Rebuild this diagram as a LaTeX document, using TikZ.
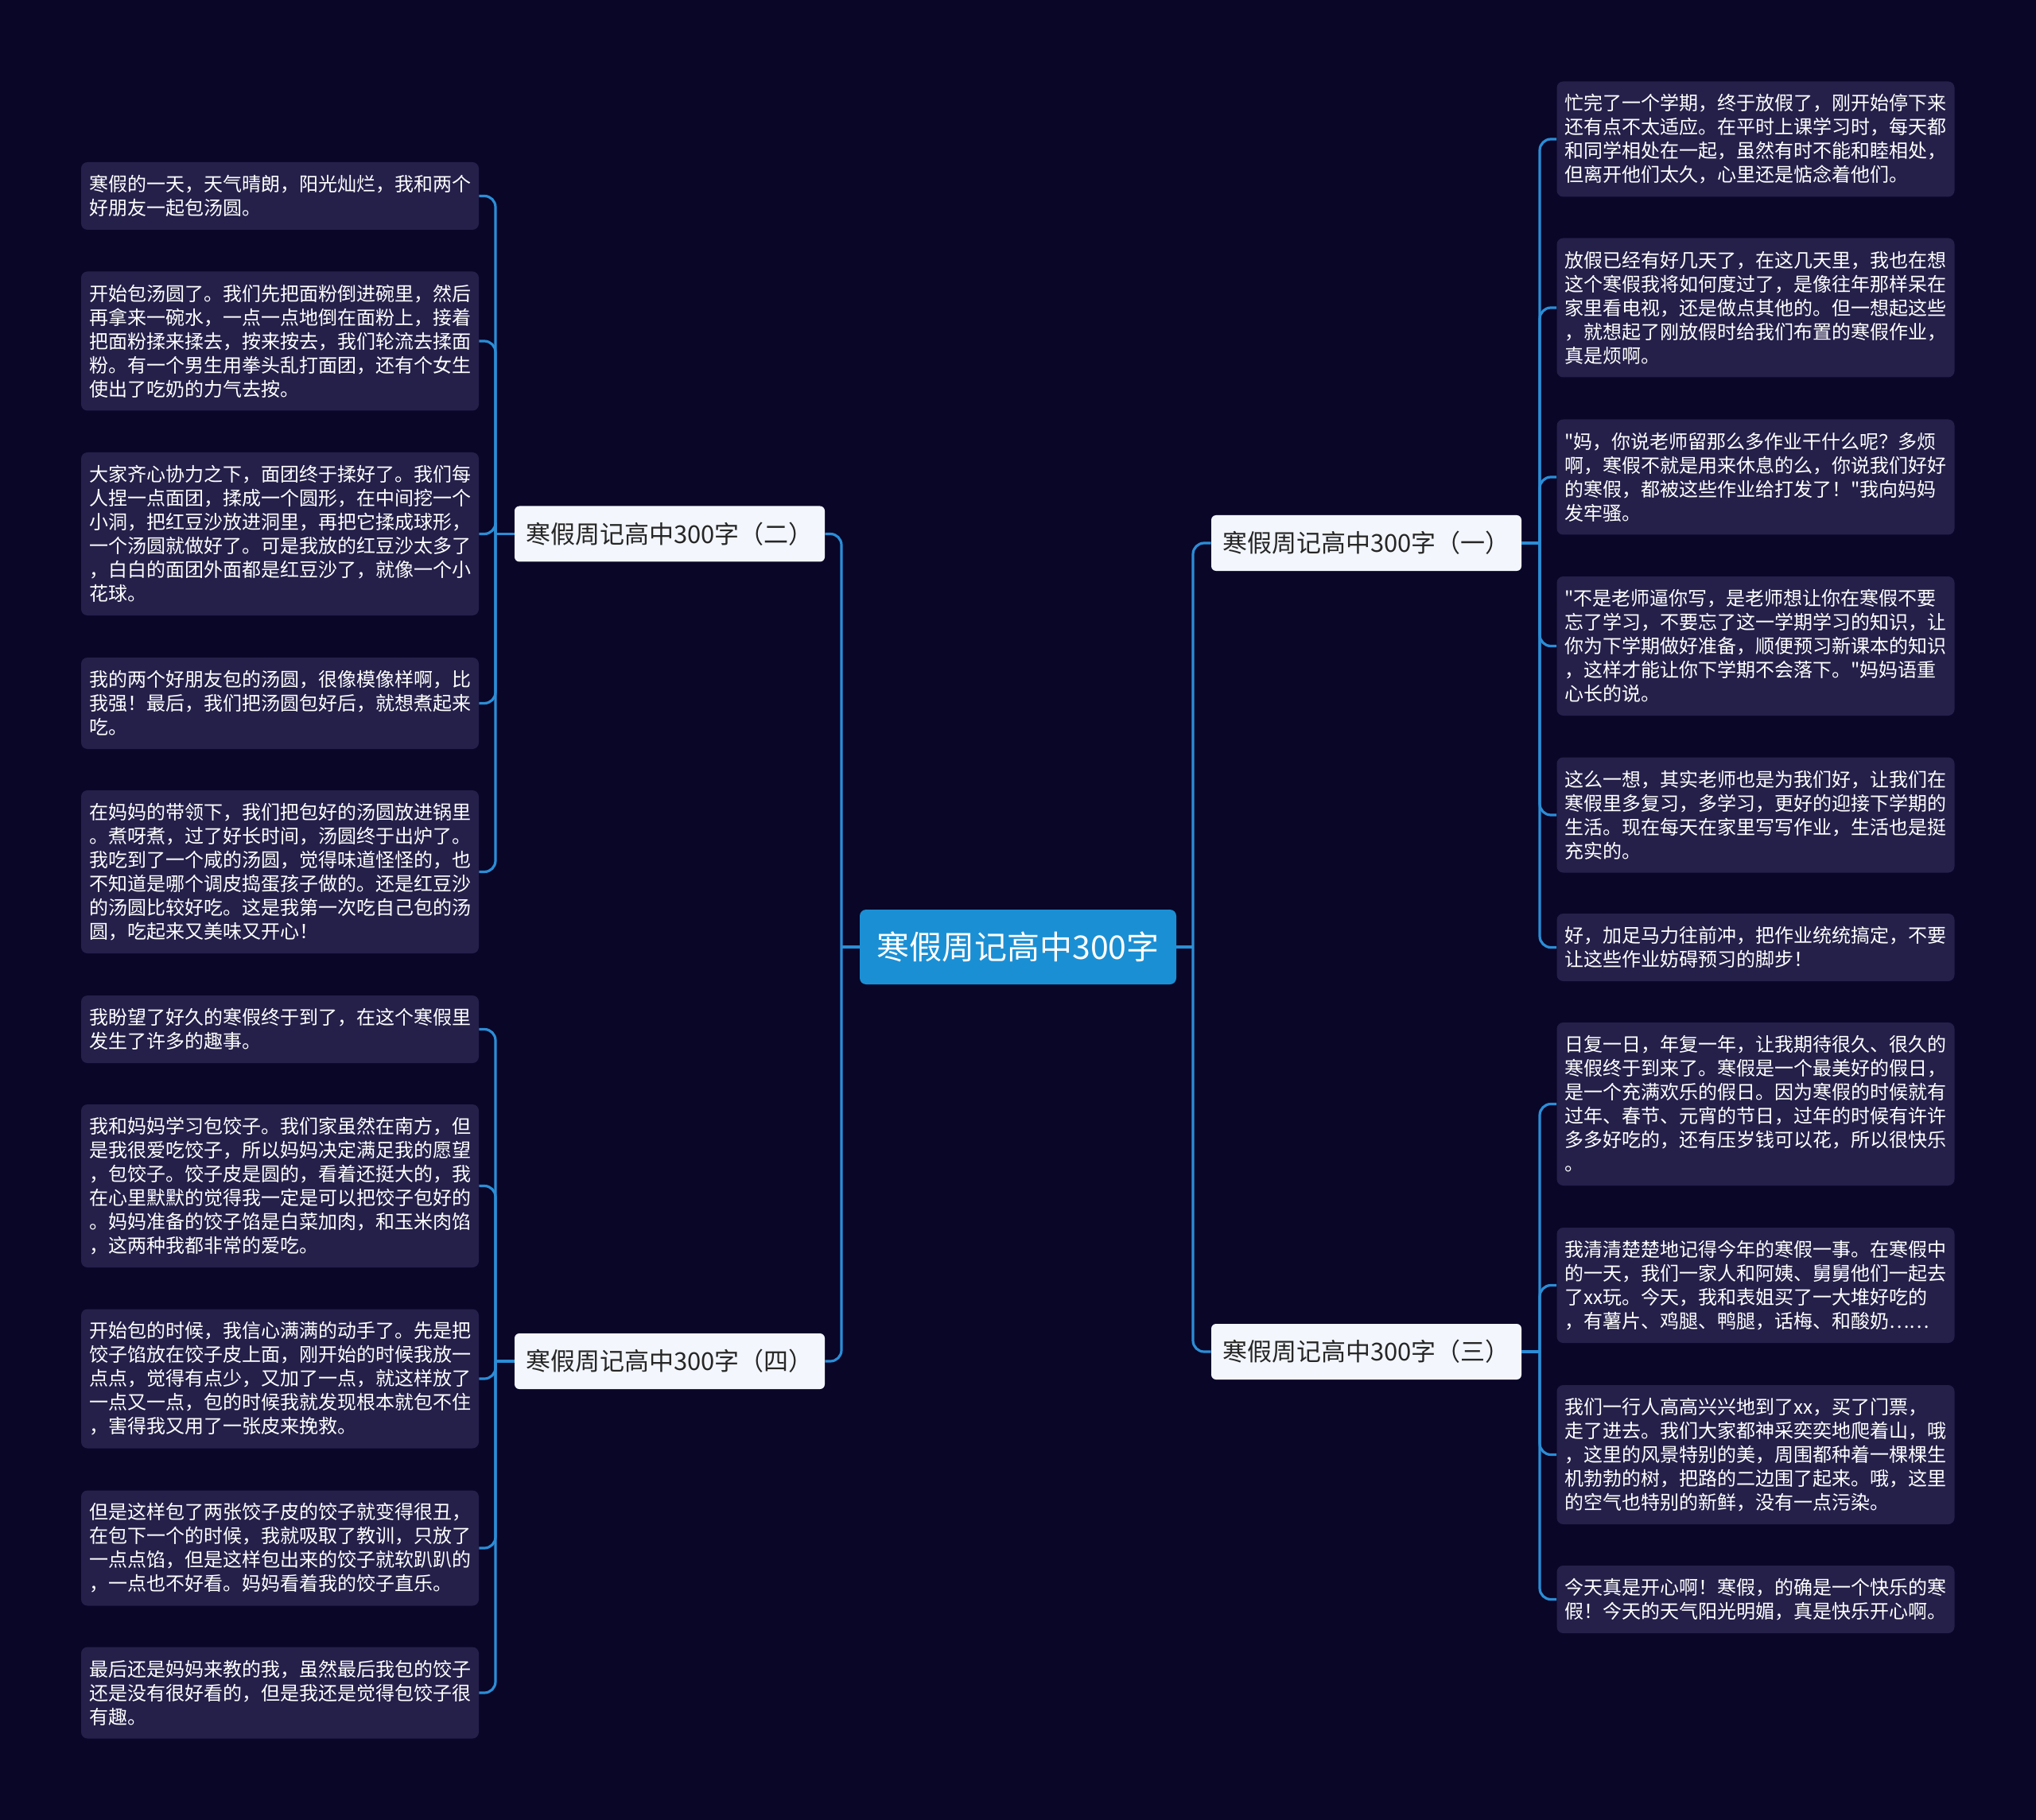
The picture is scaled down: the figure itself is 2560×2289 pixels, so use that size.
\documentclass[tikz,border=0pt]{standalone}
\usepackage{fontspec}
\setmainfont{Noto Sans CJK SC}[Ligatures=TeXOff]

\definecolor{csfondo}{HTML}{0A0628}
\definecolor{cfoglia}{HTML}{24204A}
\definecolor{clinea}{HTML}{2B8DD6}
\definecolor{ccentro}{HTML}{1B8FD4}
\definecolor{cchiaro}{HTML}{F3F6FC}
\definecolor{ctesto}{HTML}{262626}

\begin{document}
\begin{tikzpicture}[x=0.5pt,y=-0.5pt,
    ramo/.style={line width=1.6pt,draw=clinea,rounded corners=7pt},
    foglia/.style={fill=cfoglia,rounded corners=4pt,text=white,align=left,
        text width=240pt,inner xsep=5pt,inner ysep=0pt,
        minimum height={#1*15pt+12.5pt},font=\fontsize{12pt}{15pt}\selectfont},
    titolo/.style={fill=cchiaro,rounded corners=3pt,text=ctesto,inner sep=0pt,
        minimum width=195pt,minimum height=35pt,font=\fontsize{15.5pt}{18pt}\selectfont},
    radice/.style={fill=ccentro,rounded corners=4pt,text=white,inner sep=0pt,
        minimum width=199pt,minimum height=47pt,font=\fontsize{20.5pt}{24pt}\selectfont}]

    % sfondo
    \path[fill=csfondo,use as bounding box] (0,0) rectangle (2560,2289);

    % nodo centrale
    \node[radice] (root) at (1280,1191) {寒假周记高中300字};

    % rami
    \node[titolo] (b1) at (1718,683) {寒假周记高中300字（一）};
    \node[titolo] (b2) at (842,671.5) {寒假周记高中300字（二）};
    \node[titolo] (b3) at (1718,1700) {寒假周记高中300字（三）};
    \node[titolo] (b4) at (842,1712) {寒假周记高中300字（四）};

    % foglie a sinistra (二)
    \node[foglia=2] (l1) at (352,246.5) {寒假的一天，天气晴朗，阳光灿烂，我和两个\\好朋友一起包汤圆。};
    \node[foglia=5] (l2) at (352,429) {开始包汤圆了。我们先把面粉倒进碗里，然后\\再拿来一碗水，一点一点地倒在面粉上，接着\\把面粉揉来揉去，按来按去，我们轮流去揉面\\粉。有一个男生用拳头乱打面团，还有个女生\\使出了吃奶的力气去按。};
    \node[foglia=6] (l3) at (352,671.5) {大家齐心协力之下，面团终于揉好了。我们每\\人捏一点面团，揉成一个圆形，在中间挖一个\\小洞，把红豆沙放进洞里，再把它揉成球形，\\一个汤圆就做好了。可是我放的红豆沙太多了\\，白白的面团外面都是红豆沙了，就像一个小\\花球。};
    \node[foglia=3] (l4) at (352,884.5) {我的两个好朋友包的汤圆，很像模像样啊，比\\我强！最后，我们把汤圆包好后，就想煮起来\\吃。};
    \node[foglia=6] (l5) at (352,1096.5) {在妈妈的带领下，我们把包好的汤圆放进锅里\\。煮呀煮，过了好长时间，汤圆终于出炉了。\\我吃到了一个咸的汤圆，觉得味道怪怪的，也\\不知道是哪个调皮捣蛋孩子做的。还是红豆沙\\的汤圆比较好吃。这是我第一次吃自己包的汤\\圆，吃起来又美味又开心！};

    % foglie a sinistra (四)
    \node[foglia=2] (l6) at (352,1294.5) {我盼望了好久的寒假终于到了，在这个寒假里\\发生了许多的趣事。};
    \node[foglia=6] (l7) at (352,1491.5) {我和妈妈学习包饺子。我们家虽然在南方，但\\是我很爱吃饺子，所以妈妈决定满足我的愿望\\，包饺子。饺子皮是圆的，看着还挺大的，我\\在心里默默的觉得我一定是可以把饺子包好的\\。妈妈准备的饺子馅是白菜加肉，和玉米肉馅\\，这两种我都非常的爱吃。};
    \node[foglia=5] (l8) at (352,1734) {开始包的时候，我信心满满的动手了。先是把\\饺子馅放在饺子皮上面，刚开始的时候我放一\\点点，觉得有点少，又加了一点，就这样放了\\一点又一点，包的时候我就发现根本就包不住\\，害得我又用了一张皮来挽救。};
    \node[foglia=4] (l9) at (352,1947) {但是这样包了两张饺子皮的饺子就变得很丑，\\在包下一个的时候，我就吸取了教训，只放了\\一点点馅，但是这样包出来的饺子就软趴趴的\\，一点也不好看。妈妈看着我的饺子直乐。};
    \node[foglia=3] (l10) at (352,2129) {最后还是妈妈来教的我，虽然最后我包的饺子\\还是没有很好看的，但是我还是觉得包饺子很\\有趣。};

    % foglie a destra (一)
    \node[foglia=4] (r1) at (2207.5,175) {忙完了一个学期，终于放假了，刚开始停下来\\还有点不太适应。在平时上课学习时，每天都\\和同学相处在一起，虽然有时不能和睦相处，\\但离开他们太久，心里还是惦念着他们。};
    \node[foglia=5] (r2) at (2207.5,387) {放假已经有好几天了，在这几天里，我也在想\\这个寒假我将如何度过了，是像往年那样呆在\\家里看电视，还是做点其他的。但一想起这些\\，就想起了刚放假时给我们布置的寒假作业，\\真是烦啊。};
    \node[foglia=4] (r3) at (2207.5,600) {"妈，你说老师留那么多作业干什么呢？多烦\\啊，寒假不就是用来休息的么，你说我们好好\\的寒假，都被这些作业给打发了！"我向妈妈\\发牢骚。};
    \node[foglia=5] (r4) at (2207.5,812.5) {"不是老师逼你写，是老师想让你在寒假不要\\忘了学习，不要忘了这一学期学习的知识，让\\你为下学期做好准备，顺便预习新课本的知识\\，这样才能让你下学期不会落下。"妈妈语重\\心长的说。};
    \node[foglia=4] (r5) at (2207.5,1025) {这么一想，其实老师也是为我们好，让我们在\\寒假里多复习，多学习，更好的迎接下学期的\\生活。现在每天在家里写写作业，生活也是挺\\充实的。};
    \node[foglia=2] (r6) at (2207.5,1191.5) {好，加足马力往前冲，把作业统统搞定，不要\\让这些作业妨碍预习的脚步！};

    % foglie a destra (三)
    \node[foglia=6] (r7) at (2207.5,1388.5) {日复一日，年复一年，让我期待很久、很久的\\寒假终于到来了。寒假是一个最美好的假日，\\是一个充满欢乐的假日。因为寒假的时候就有\\过年、春节、元宵的节日，过年的时候有许许\\多多好吃的，还有压岁钱可以花，所以很快乐\\。};
    \node[foglia=4] (r8) at (2207.5,1616.5) {我清清楚楚地记得今年的寒假一事。在寒假中\\的一天，我们一家人和阿姨、舅舅他们一起去\\了xx玩。今天，我和表姐买了一大堆好吃的\\，有薯片、鸡腿、鸭腿，话梅、和酸奶……};
    \node[foglia=5] (r9) at (2207.5,1829.5) {我们一行人高高兴兴地到了xx，买了门票，\\走了进去。我们大家都神采奕奕地爬着山，哦\\，这里的风景特别的美，周围都种着一棵棵生\\机勃勃的树，把路的二边围了起来。哦，这里\\的空气也特别的新鲜，没有一点污染。};
    \node[foglia=2] (r10) at (2207.5,2011.5) {今天真是开心啊！寒假，的确是一个快乐的寒\\假！今天的天气阳光明媚，真是快乐开心啊。};

    % snodi
    \coordinate (jr) at (1500,1191);
    \coordinate (jl) at (1058,1191);
    \coordinate (j1) at (1936,683);
    \coordinate (j3) at (1936,1700);
    \coordinate (j2) at (623,671.5);
    \coordinate (j4) at (623,1712);

    % collegamenti centro-rami
    \draw[ramo] (root.east) -- (jr);
    \draw[ramo] (root.west) -- (jl);
    \draw[ramo] (jr) |- (b1.west);
    \draw[ramo] (jr) |- (b3.west);
    \draw[ramo] (jl) |- (b2.east);
    \draw[ramo] (jl) |- (b4.east);

    % collegamenti rami-foglie
    \draw[ramo] (b1.east) -- (j1);
    \draw[ramo] (b3.east) -- (j3);
    \draw[ramo] (b2.west) -- (j2);
    \draw[ramo] (b4.west) -- (j4);
    \foreach \f in {r1,r2,r3,r4,r5,r6} \draw[ramo] (j1) |- (\f.west);
    \foreach \f in {r7,r8,r9,r10} \draw[ramo] (j3) |- (\f.west);
    \foreach \f in {l1,l2,l3,l4,l5} \draw[ramo] (j2) |- (\f.east);
    \foreach \f in {l6,l7,l8,l9,l10} \draw[ramo] (j4) |- (\f.east);

\end{tikzpicture}
\end{document}
